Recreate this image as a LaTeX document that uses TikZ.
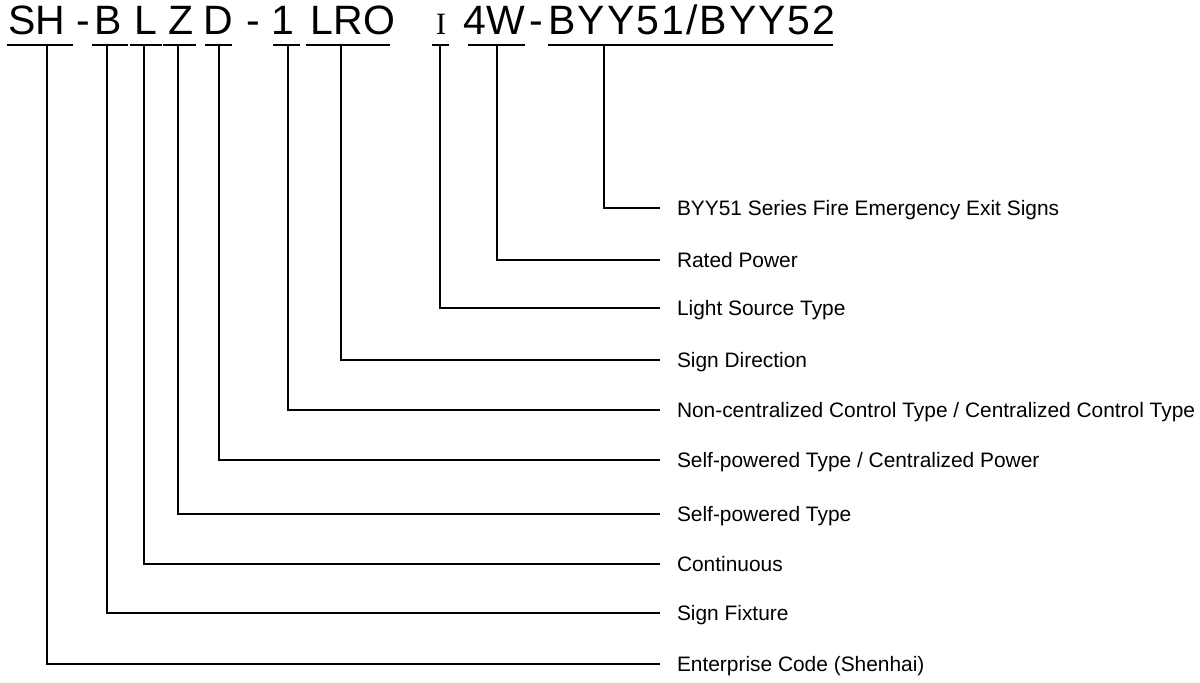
\documentclass[tikz,border=0pt]{standalone}
\usepackage{fontspec}
\setmainfont{Liberation Sans}
\newfontfamily\romanfont{Liberation Serif}
\begin{document}
\begin{tikzpicture}[x=0.5pt,y=-0.5pt,line width=1pt,
	codetext/.style={anchor=base,inner sep=0pt,font=\fontsize{20.5pt}{24pt}\selectfont},
	desc/.style={anchor=west,inner xsep=8pt,inner ysep=0pt,text height=9.5pt,text depth=2.1pt,font=\fontsize{10.45pt}{12pt}\selectfont}]
	
	% Frame
	\useasboundingbox (0,0) rectangle (1200,682);
	
	% Parameters
	\def\ubar{45}      % underline level
	\def\base{34}      % baseline of the model code
	\def\lx{660}       % where the leaders end
	
	% Model code
	\node[codetext] (sh)   at (37,\base)  {SH};
	\node[codetext] (dsha) at (83,\base)  {-};
	\node[codetext] (b)    at (108,\base) {B};
	\node[codetext] (l)    at (146,\base) {L};
	\node[codetext] (z)    at (181,\base) {Z};
	\node[codetext] (d)    at (218,\base) {D};
	\node[codetext] (dshb) at (253,\base) {-};
	\node[codetext] (one)  at (283,\base) {1};
	\node[codetext] (lro)  at (353,\base) {LRO};
	\node[codetext,font=\romanfont\fontsize{15.5pt}{18pt}\selectfont] (src) at (441,\base) {I};
	\node[codetext] (pw)   at (494,\base) {4W};
	\node[codetext] (dshc) at (536,\base) {-};
	\node[codetext] (ser)  at (692,\base) {\addfontfeature{LetterSpace=5}BYY51/BYY52};
	
	% Underlines
	\draw (7,\ubar) -- (73,\ubar);
	\draw (92,\ubar) -- (128,\ubar);
	\draw (130,\ubar) -- (162,\ubar);
	\draw (163,\ubar) -- (196,\ubar);
	\draw (205,\ubar) -- (232,\ubar);
	\draw (273,\ubar) -- (300,\ubar);
	\draw (306,\ubar) -- (390,\ubar);
	\draw (432,\ubar) -- (449,\ubar);
	\draw (468,\ubar) -- (525,\ubar);
	\draw (548,\ubar) -- (833,\ubar);
	
	% Stem tops
	\coordinate (tsh)  at (47,\ubar);
	\coordinate (tb)   at (107,\ubar);
	\coordinate (tl)   at (144,\ubar);
	\coordinate (tz)   at (178,\ubar);
	\coordinate (td)   at (219,\ubar);
	\coordinate (tone) at (288,\ubar);
	\coordinate (tlro) at (341,\ubar);
	\coordinate (tsrc) at (440,\ubar);
	\coordinate (tpw)  at (497,\ubar);
	\coordinate (tser) at (604,\ubar);
	
	% Descriptions
	\node[desc] (dser)  at (\lx,208) {BYY51 Series Fire Emergency Exit Signs};
	\node[desc] (dpw)   at (\lx,260) {Rated Power};
	\node[desc] (dsrc)  at (\lx,308) {Light Source Type};
	\node[desc] (dlro)  at (\lx,360) {Sign Direction};
	\node[desc] (done)  at (\lx,410) {Non-centralized Control Type / Centralized Control Type};
	\node[desc] (dd)    at (\lx,460) {Self-powered Type / Centralized Power};
	\node[desc] (dz)    at (\lx,514) {Self-powered Type};
	\node[desc] (dl)    at (\lx,564) {Continuous};
	\node[desc] (db)    at (\lx,613) {Sign Fixture};
	\node[desc] (dsh)   at (\lx,664) {Enterprise Code (Shenhai)};
	
	% Leaders
	\draw (tser) |- (dser.west);
	\draw (tpw)  |- (dpw.west);
	\draw (tsrc) |- (dsrc.west);
	\draw (tlro) |- (dlro.west);
	\draw (tone) |- (done.west);
	\draw (td)   |- (dd.west);
	\draw (tz)   |- (dz.west);
	\draw (tl)   |- (dl.west);
	\draw (tb)   |- (db.west);
	\draw (tsh)  |- (dsh.west);
	
\end{tikzpicture}
\end{document}
